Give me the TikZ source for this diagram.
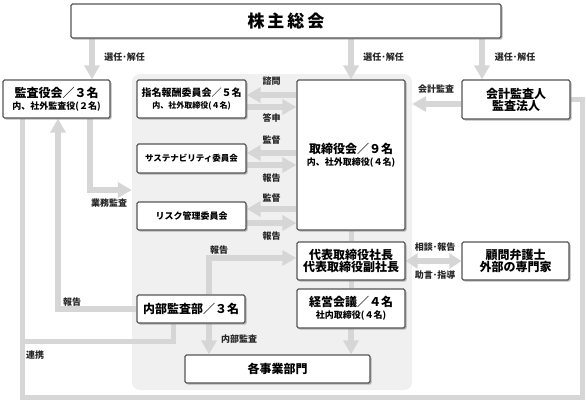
\documentclass[tikz,border=0pt]{standalone}
\usepackage{fontspec}
\setmainfont{Noto Sans CJK JP}
\usetikzlibrary{arrows.meta,shadows}
\definecolor{ln}{RGB}{214,214,214}
\definecolor{bd}{RGB}{85,85,85}
\definecolor{pn}{RGB}{240,240,240}
\pgfdeclarelayer{bga}\pgfdeclarelayer{bgb}\pgfsetlayers{bga,bgb,main}
\newcommand\fA{\fontsize{12}{14}\selectfont}
\newcommand\fB{\fontsize{9}{11}\selectfont}
\newcommand\fC{\fontsize{10}{12}\selectfont}
\newcommand\fD{\fontsize{8}{10}\selectfont}
\begin{document}
\begin{tikzpicture}[x=1pt,y=-1pt,
 box/.style={draw=bd, line width=1.3pt, fill=white, rounded corners=1.5pt,
   drop shadow={shadow xshift=1.5pt,shadow yshift=-1.5pt,fill=black!50,opacity=0.55},
   align=center, inner sep=0pt, font=\bfseries},
 arr/.style={draw=ln, line width=5.5pt, -{Triangle[length=14pt,width=15pt]}},
 dbl/.style={draw=ln, line width=5.5pt, {Triangle[length=12pt,width=15pt]}-{Triangle[length=12pt,width=15pt]}},
 con/.style={draw=ln, line width=5pt},
 lbl/.style={font=\fontsize{9}{10}\selectfont\bfseries, inner sep=0pt, text=black!85},
]
\useasboundingbox (0,0) rectangle (586,400);

\begin{pgfonlayer}{bga}
\fill[white] (0,0) rectangle (586,400);
\node[fill=pn, rounded corners=8pt, minimum width=280pt, minimum height=316pt, inner sep=0pt] (panel) at (272,232) {};
\end{pgfonlayer}

% boxes
\node[box, minimum width=430pt, minimum height=34pt] (sh) at (286,21)
  {\fontsize{17}{20}\selectfont 株\hspace{3pt}主\hspace{3pt}総\hspace{3pt}会};
\node[box, minimum width=107pt, minimum height=38pt] (kansa) at (56.5,99)
  {{\fA 監査役会／３名}\\{\fB 内、社外監査役(２名)}};
\node[box, minimum width=108pt, minimum height=39pt] (kaikei) at (516,99.5)
  {{\fA 会計監査人}\\{\fA 監査法人}};
\node[box, minimum width=108pt, minimum height=150pt] (tori) at (351,155)
  {{\fA 取締役会／９名}\\{\fB 内、社外取締役(４名)}};
\node[box, minimum width=109pt, minimum height=38pt] (shimei) at (191.5,99)
  {{\fC 指名報酬委員会／５名}\\{\fD 内、社外取締役(４名)}};
\node[box, minimum width=109pt, minimum height=29pt] (sust) at (191.5,158.5)
  {\fontsize{8.5}{10}\selectfont サステナビリティ委員会};
\node[box, minimum width=109pt, minimum height=28pt] (risk) at (191.5,216)
  {\fontsize{9}{11}\selectfont リスク管理委員会};
\node[box, minimum width=108pt, minimum height=38pt] (daihyo) at (351,261)
  {{\fA 代表取締役社長}\\{\fA 代表取締役副社長}};
\node[box, minimum width=108pt, minimum height=39pt] (keiei) at (351,308.5)
  {{\fA 経営会議／４名}\\{\fB 社内取締役(４名)}};
\node[box, minimum width=185pt, minimum height=28pt] (kakuji) at (277.5,369)
  {\fA 各事業部門};
\node[box, minimum width=108pt, minimum height=28pt] (naibu) at (191,309)
  {\fA 内部監査部／３名};
\node[box, minimum width=107pt, minimum height=38pt] (komon) at (515.5,261)
  {{\fA 顧問弁護士}\\{\fA 外部の専門家}};

% labels
\node[lbl] (l1) at (124.5,57) {選任･解任};
\node[lbl] (l2) at (383.5,57) {選任･解任};
\node[lbl] (l3) at (515,57) {選任･解任};
\node[lbl] (l4) at (436,89) {会計監査};
\node[lbl] (l5) at (271.5,81) {諮問};
\node[lbl] (l6) at (271.5,118) {答申};
\node[lbl] (l7) at (271.5,140) {監督};
\node[lbl] (l8) at (271.5,178) {報告};
\node[lbl] (l9) at (271.5,198) {監督};
\node[lbl] (l10) at (271.5,236) {報告};
\node[lbl] (l11) at (109,203) {業務監査};
\node[lbl] (l12) at (72,302) {報告};
\node[lbl] (l13) at (35,355) {連携};
\node[lbl] (l14) at (219,250) {報告};
\node[lbl] (l15) at (239,339) {内部監査};
\node[lbl] (l16) at (435,247) {相談･報告};
\node[lbl] (l17) at (435,275) {助言･指導};

% helper coordinates
\coordinate (c22) at (22,0);
\coordinate (c58) at (58,0);
\coordinate (c90) at (90,0);
\coordinate (c92) at (92,0);
\coordinate (c173) at (173,0);
\coordinate (c209) at (209,0);
\coordinate (c482) at (482,0);
\coordinate (c582) at (582,0);
\coordinate (r95) at (0,95);
\coordinate (r104) at (0,104);
\coordinate (r107) at (0,107);
\coordinate (r153) at (0,153);
\coordinate (r165) at (0,165);
\coordinate (r190) at (0,190);
\coordinate (r209) at (0,209);
\coordinate (r223) at (0,223);
\coordinate (r258) at (0,258);
\coordinate (r341) at (0,341);
\coordinate (r397) at (0,397);

\begin{pgfonlayer}{bgb}
\draw[arr] (sh.south -| c92) -- (kansa.north -| c92);
\draw[arr] (sh.south -| tori.north) -- (tori.north);
\draw[arr] (sh.south -| c482) -- (kaikei.north -| c482);
\draw[arr] (kaikei.west |- r104) -- (panel.east |- r104);
\draw[arr] (tori.west |- r95) -- (shimei.east |- r95);
\draw[arr] (shimei.east |- r107) -- (tori.west |- r107);
\draw[arr] (tori.west |- r153) -- (sust.east |- r153);
\draw[arr] (sust.east |- r165) -- (tori.west |- r165);
\draw[arr] (tori.west |- r209) -- (risk.east |- r209);
\draw[arr] (risk.east |- r223) -- (tori.west |- r223);
\draw[arr] (kansa.south -| c90) |- (panel.west |- r190);
\draw[arr] (naibu.west) -| (kansa.south -| c58);
\draw[con] (kansa.south -| c22) -- (c22 |- r397) -- (c582 |- r397) -- (c582 |- kaikei.east) -- (kaikei.east);
\draw[con] (naibu.south -| c173) |- (c22 |- r341);
\draw[arr] (naibu.north -| c209) |- (daihyo.west |- r258);
\draw[arr] (naibu.south -| c209) -- (kakuji.north -| c209);
\draw[con] (tori.south) -- (daihyo.north);
\draw[con] (daihyo.south) -- (keiei.north);
\draw[arr] (keiei.south) -- (kakuji.north -| keiei.south);
\draw[dbl] (daihyo.east) -- (komon.west);
\end{pgfonlayer}
\end{tikzpicture}
\end{document}
